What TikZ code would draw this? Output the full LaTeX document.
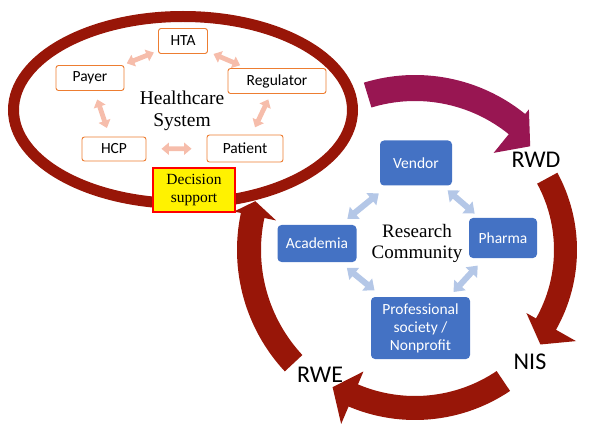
\documentclass[tikz,border=0pt]{standalone}
\usepackage{fontspec}
\setmainfont{Liberation Serif}
\newfontfamily\calibri{Carlito}
\usepackage{tikz}
\usetikzlibrary{arrows.meta}

\definecolor{hcarrow}{HTML}{F6BDAB}
\definecolor{hcorange}{HTML}{ED7D31}
\definecolor{rcblue}{HTML}{4472C4}
\definecolor{rcarrow}{HTML}{B4C7E7}
\definecolor{loopred}{RGB}{152,22,8}
\definecolor{loopmagenta}{RGB}{152,22,82}

% #1 colour, #2/#3 tail/head angle, #4/#5 inner/outer radius,
% #6/#7 wing radii, #8/#9 tip angle/radius (around coordinate ctr)
\newcommand{\circarrow}[9]{%
  \fill[#1] ([shift={(#2:#4)}]ctr) arc[start angle=#2, end angle=#3, radius=#4]
    -- ([shift={(#3:#6)}]ctr) -- ([shift={(#8:#9)}]ctr) -- ([shift={(#3:#7)}]ctr)
    -- ([shift={(#3:#5)}]ctr) arc[start angle=#3, end angle=#2, radius=#5] -- cycle;}

\begin{document}
\begin{tikzpicture}[x=1pt, y=1pt,
  hcbox/.style={draw=hcorange, line width=0.9pt, rounded corners=2.5pt, fill=white,
    inner sep=0pt, minimum height=25pt, font=\calibri\fontsize{15.5}{18}\selectfont},
  rcbox/.style={fill=rcblue, rounded corners=4pt, inner sep=0pt, align=center,
    text=white, font=\calibri\fontsize{15.5}{18}\selectfont},
  heading/.style={align=center, inner sep=0pt, font=\fontsize{19.5}{22}\selectfont},
  stage/.style={inner sep=0pt, font=\calibri\fontsize{24}{28}\selectfont},
  decision/.style={draw=red, line width=1.6pt, fill=yellow, inner sep=0pt,
    minimum width=82pt, minimum height=44pt, align=center,
    font=\fontsize{15.5}{18.5}\selectfont},
  hclink/.style={{Triangle[length=7.5pt,width=12pt]}-{Triangle[length=7.5pt,width=12pt]},
    line width=4.8pt, draw=hcarrow},
  rclink/.style={{Triangle[length=9.5pt,width=15pt]}-{Triangle[length=9.5pt,width=15pt]},
    line width=6pt, draw=rcarrow}]

  \useasboundingbox (0,0) rectangle (589,429);

  \draw[loopred, line width=11pt] (183,319) ellipse[x radius=169.5, y radius=93.5];

  \coordinate (ctr) at (415,179);
  \circarrow{loopmagenta}{107}{51}{149}{175}{125}{181}{42}{155}
  \circarrow{loopred}{28.5}{-29.5}{139}{162}{128}{185}{-37}{157}
  \circarrow{loopred}{-56}{-113}{146}{170}{132}{189}{-121}{160}
  \circarrow{loopred}{223}{168}{154}{178}{142}{185}{163}{167}

  \node[hcbox, minimum width=49pt] (hta) at (183,388) {HTA};
  \node[hcbox, minimum width=68pt] (payer) at (90,351) {Payer};
  \node[hcbox, minimum width=98pt] (regulator) at (277,348) {Regulator};
  \node[hcbox, minimum width=64pt, minimum height=24pt] (hcp) at (114,280) {HCP};
  \node[hcbox, minimum width=76pt, minimum height=27pt] (patient) at (245,280.5) {Patient};
  \node[heading] (hcsys) at (182,318) {Healthcare\\System};
  \node[decision] (dss) at (194,239) {Decision\\support};

  \node[rcbox, minimum width=72pt, minimum height=45pt] (vendor) at (416,266) {Vendor};
  \node[rcbox, minimum width=68pt, minimum height=40pt] (pharma) at (503,191) {Pharma};
  \node[rcbox, minimum width=79pt, minimum height=37pt] (academia) at (317,185.5) {Academia};
  \node[rcbox, minimum width=99pt, minimum height=62pt] (prof) at (420.5,101)
    {Professional\\society /\\Nonprofit};
  \node[heading, font=\fontsize{19}{21}\selectfont] (rescom) at (417,186) {Research\\Community};

  \node[stage] (rwd) at (536,269) {RWD};
  \node[stage] (nis) at (530,67) {NIS};
  \node[stage] (rwe) at (320,54) {RWE};

  \draw[hclink, shorten <=4.5pt, shorten >=4.5pt] (hta) -- (payer);
  \draw[hclink, shorten <=6pt, shorten >=7pt] (hta) -- (regulator);
  \draw[hclink, shorten <=9pt, shorten >=9pt] (payer) -- (hcp);
  \draw[hclink, shorten <=6pt, shorten >=8pt] (regulator) -- (patient);
  \draw[hclink, shorten <=15pt, shorten >=15pt] (hcp) -- (patient);

  \draw[rclink, shorten <=12pt, shorten >=9.5pt] (vendor) -- (academia);
  \draw[rclink, shorten <=7pt, shorten >=6.5pt] (vendor) -- (pharma);
  \draw[rclink, shorten <=9pt, shorten >=10pt] (academia) -- (prof);
  \draw[rclink, shorten <=10pt, shorten >=6.5pt] (pharma) -- (prof);
\end{tikzpicture}
\end{document}
